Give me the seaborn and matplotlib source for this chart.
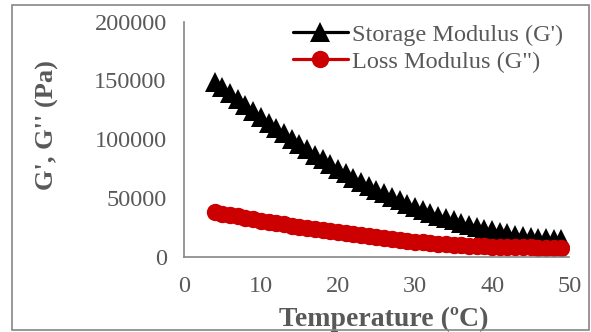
import numpy as np
import pandas as pd
import matplotlib.pyplot as plt
import seaborn as sns
from matplotlib.patches import Rectangle

# --- data ---
temperature = list(range(4, 50))
storage_modulus = [149000, 144000, 139000, 134000, 129000, 124000, 119000, 114000,
                   109500, 105000, 100500, 96000, 91500, 87000, 83000, 79000,
                   75000, 71000, 67500, 64000, 60500, 57000, 54000, 51000,
                   48000, 45000, 42500, 40000, 37500, 35000, 33000, 31000,
                   29000, 27200, 25500, 24000, 22500, 21200, 20000, 19000,
                   18000, 17200, 16500, 15900, 15400, 15000]
loss_modulus = [38000, 36800, 35600, 34400, 33200, 32000, 30900, 29800,
                28700, 27600, 26600, 25600, 24600, 23600, 22700, 21800,
                20900, 20000, 19200, 18400, 17600, 16800, 16000, 15200,
                14500, 13800, 13100, 12500, 11900, 11400, 10900, 10400,
                10000, 9600, 9300, 9000, 8800, 8600, 8400, 8300,
                8200, 8100, 8000, 7900, 7800, 7700]
x_ticks = [0, 10, 20, 30, 40, 50]
y_ticks = [0, 50000, 100000, 150000, 200000]

df = pd.DataFrame({"T": temperature, "G1": storage_modulus, "G2": loss_modulus})

sns.set_style("white")
plt.rcParams["font.family"] = ["Liberation Serif", "DejaVu Serif"]
gray = "#595959"
axis_gray = "#868686"

fig = plt.figure(figsize=(5.91, 3.32), dpi=100)
ax = fig.add_axes([0.311, 0.226, 0.652, 0.709])

sns.lineplot(data=df, x="T", y="G1", ax=ax, color="black", lw=2.3,
             marker="^", markersize=14, markeredgewidth=0,
             label="Storage Modulus (G')")
sns.lineplot(data=df, x="T", y="G2", ax=ax, color="#CC0000", lw=2.3,
             marker="o", markersize=12.5, markeredgewidth=0,
             label='Loss Modulus (G")')

ax.set_xlim(0, 50)
ax.set_ylim(0, 200000)
ax.set_xticks(x_ticks)
ax.set_yticks(y_ticks)
ax.tick_params(axis="both", colors=axis_gray, labelcolor=gray, labelsize=17.5,
               direction="out", length=4.3, width=1.2)
ax.tick_params(axis="x", pad=9.5)
ax.tick_params(axis="y", pad=8)
for side in ["top", "right"]:
    ax.spines[side].set_visible(False)
for side in ["left", "bottom"]:
    ax.spines[side].set_color(axis_gray)
    ax.spines[side].set_linewidth(1.2)

ax.set_xlabel("Temperature (ºC)", fontsize=20, fontweight="bold", color=gray)
ax.set_ylabel("G', G'' (Pa)", fontsize=19, fontweight="bold", color=gray)
ax.xaxis.set_label_coords(0.52, -0.212)
ax.yaxis.set_label_coords(-0.325, 0.562)

leg = ax.legend(loc="upper left", bbox_to_anchor=(0.283, 0.99), frameon=False,
                fontsize=17.5, handlelength=2.25, handletextpad=0.2,
                labelspacing=0.2, borderaxespad=0, borderpad=0)
for t in leg.get_texts():
    t.set_color(gray)

# outer chart-area border
fig.patches.append(Rectangle((12 / 591, 2 / 332), 577 / 591, 325 / 332,
                             transform=fig.transFigure, fill=False,
                             edgecolor=axis_gray, lw=1.2))

fig.savefig("out.png", dpi=100)
